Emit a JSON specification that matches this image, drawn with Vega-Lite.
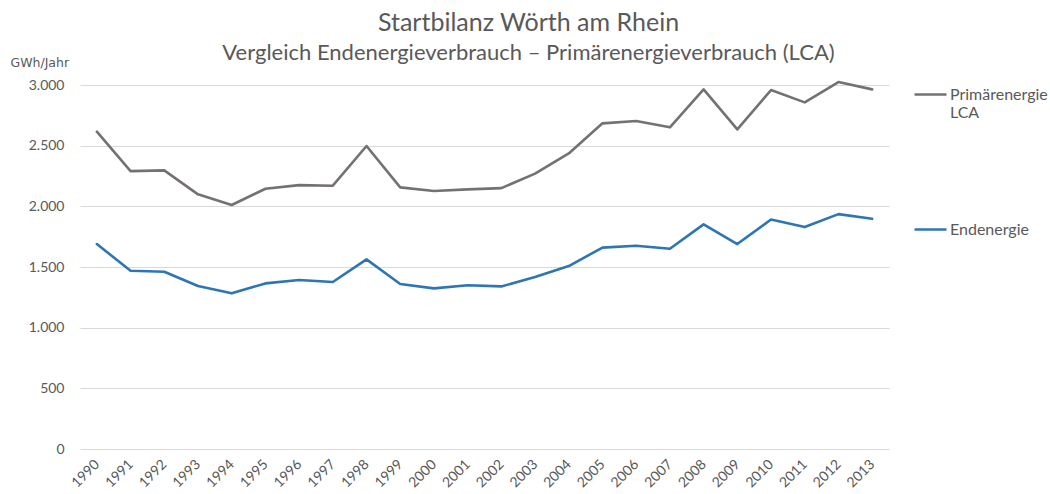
{
  "$schema": "https://vega.github.io/schema/vega-lite/v6.json",
  "width": 809,
  "height": 364,
  "autosize": "none",
  "padding": {"left": 80, "top": 85, "right": 161, "bottom": 45},
  "config": {
    "locale": {"number": {"decimal": ",", "thousands": ".", "grouping": [3], "currency": ["", " €"]}},
    "font": "Lato",
    "view": {"stroke": null},
    "background": "white"
  },
  "title": {
    "text": "Startbilanz Wörth am Rhein",
    "subtitle": "Vergleich Endenergieverbrauch – Primärenergieverbrauch (LCA)",
    "anchor": "middle",
    "frame": "group",
    "dx": 44,
    "offset": -8,
    "fontSize": 25,
    "fontWeight": "normal",
    "color": "#595959",
    "subtitleFontSize": 22,
    "subtitleColor": "#595959",
    "subtitlePadding": 7
  },
  "data": {
    "values": [
      {"year": "1990", "series": "Primärenergie LCA", "value": 2615},
      {"year": "1991", "series": "Primärenergie LCA", "value": 2290},
      {"year": "1992", "series": "Primärenergie LCA", "value": 2296},
      {"year": "1993", "series": "Primärenergie LCA", "value": 2099},
      {"year": "1994", "series": "Primärenergie LCA", "value": 2011},
      {"year": "1995", "series": "Primärenergie LCA", "value": 2145},
      {"year": "1996", "series": "Primärenergie LCA", "value": 2175},
      {"year": "1997", "series": "Primärenergie LCA", "value": 2170},
      {"year": "1998", "series": "Primärenergie LCA", "value": 2497},
      {"year": "1999", "series": "Primärenergie LCA", "value": 2156},
      {"year": "2000", "series": "Primärenergie LCA", "value": 2126},
      {"year": "2001", "series": "Primärenergie LCA", "value": 2140},
      {"year": "2002", "series": "Primärenergie LCA", "value": 2150},
      {"year": "2003", "series": "Primärenergie LCA", "value": 2270},
      {"year": "2004", "series": "Primärenergie LCA", "value": 2436},
      {"year": "2005", "series": "Primärenergie LCA", "value": 2684},
      {"year": "2006", "series": "Primärenergie LCA", "value": 2703},
      {"year": "2007", "series": "Primärenergie LCA", "value": 2651},
      {"year": "2008", "series": "Primärenergie LCA", "value": 2964},
      {"year": "2009", "series": "Primärenergie LCA", "value": 2634},
      {"year": "2010", "series": "Primärenergie LCA", "value": 2958},
      {"year": "2011", "series": "Primärenergie LCA", "value": 2857},
      {"year": "2012", "series": "Primärenergie LCA", "value": 3024},
      {"year": "2013", "series": "Primärenergie LCA", "value": 2964},
      {"year": "1990", "series": "Endenergie", "value": 1689},
      {"year": "1991", "series": "Endenergie", "value": 1469},
      {"year": "1992", "series": "Endenergie", "value": 1461},
      {"year": "1993", "series": "Endenergie", "value": 1343},
      {"year": "1994", "series": "Endenergie", "value": 1283},
      {"year": "1995", "series": "Endenergie", "value": 1365},
      {"year": "1996", "series": "Endenergie", "value": 1393},
      {"year": "1997", "series": "Endenergie", "value": 1376},
      {"year": "1998", "series": "Endenergie", "value": 1563},
      {"year": "1999", "series": "Endenergie", "value": 1360},
      {"year": "2000", "series": "Endenergie", "value": 1324},
      {"year": "2001", "series": "Endenergie", "value": 1349},
      {"year": "2002", "series": "Endenergie", "value": 1340},
      {"year": "2003", "series": "Endenergie", "value": 1417},
      {"year": "2004", "series": "Endenergie", "value": 1508},
      {"year": "2005", "series": "Endenergie", "value": 1660},
      {"year": "2006", "series": "Endenergie", "value": 1675},
      {"year": "2007", "series": "Endenergie", "value": 1650},
      {"year": "2008", "series": "Endenergie", "value": 1851},
      {"year": "2009", "series": "Endenergie", "value": 1689},
      {"year": "2010", "series": "Endenergie", "value": 1892},
      {"year": "2011", "series": "Endenergie", "value": 1829},
      {"year": "2012", "series": "Endenergie", "value": 1936},
      {"year": "2013", "series": "Endenergie", "value": 1897}
    ]
  },
  "mark": {"type": "line", "strokeWidth": 2.6, "strokeCap": "round", "strokeJoin": "round"},
  "encoding": {
    "x": {
      "field": "year",
      "type": "ordinal",
      "scale": {"type": "point", "padding": 0.5},
      "axis": {
        "title": null,
        "labelAngle": -45,
        "labelAlign": "right",
        "labelBaseline": "middle",
        "labelPadding": 13,
        "labelFontSize": 14,
        "labelColor": "#595959",
        "ticks": false,
        "domain": false,
        "grid": false
      }
    },
    "y": {
      "field": "value",
      "type": "quantitative",
      "scale": {"domain": [0, 3000], "nice": false},
      "axis": {
        "values": [0, 500, 1000, 1500, 2000, 2500, 3000],
        "format": ",d",
        "title": "GWh/Jahr",
        "titleAngle": 0,
        "titleAlign": "left",
        "titleBaseline": "middle",
        "titleX": -70,
        "titleY": -23,
        "titleFont": "DejaVu Sans",
        "titleFontSize": 12.5,
        "titleFontWeight": "normal",
        "titleColor": "#595959",
        "labelFontSize": 14,
        "labelColor": "#595959",
        "labelPadding": 16,
        "ticks": false,
        "domain": false,
        "grid": true,
        "gridColor": "#d9d9d9",
        "gridWidth": 1
      }
    },
    "color": {
      "field": "series",
      "type": "nominal",
      "scale": {"domain": ["Primärenergie LCA", "Endenergie"], "range": ["#767171", "#2e75b6"]},
      "legend": {
        "title": null,
        "orient": "none",
        "legendX": 833,
        "legendY": -8,
        "symbolType": "stroke",
        "symbolSize": 1024,
        "symbolStrokeWidth": 2.6,
        "labelFontSize": 16,
        "labelColor": "#595959",
        "labelOffset": 2,
        "labelBaseline": "top",
        "labelExpr": "datum.label == 'Primärenergie LCA' ? ['Primärenergie', 'LCA'] : datum.label",
        "rowPadding": 91,
        "encode": {"labels": {"update": {"dy": {"value": -8}}}}
      }
    }
  }
}
